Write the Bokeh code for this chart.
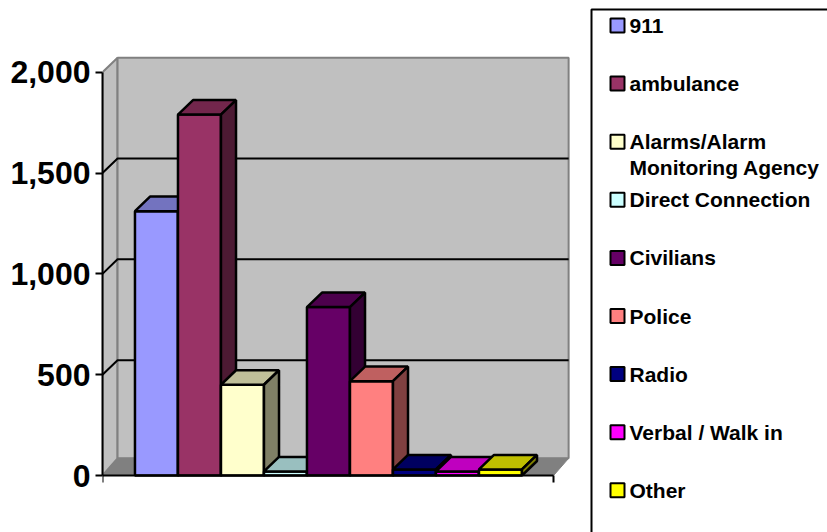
from bokeh.plotting import figure
from bokeh.models import Range1d, FixedTicker, NumeralTickFormatter
from bokeh.core.properties import value
from bokeh.embed import file_html
from bokeh.resources import INLINE

categories = ["911", "ambulance", "Alarms/Alarm\nMonitoring Agency", "Direct Connection",
              "Civilians", "Police", "Radio", "Verbal / Walk in", "Other"]
values = [1311, 1790, 450, 20, 835, 468, 30, 20, 30]
colors = ["#9999FF", "#993366", "#FFFFCC", "#CCFFFF", "#660066",
          "#FF8080", "#000080", "#FF00FF", "#FFFF00"]
y_ticks = [0, 500, 1000, 1500, 2000]

FONT = "Liberation Sans"
DX, DY = 0.35, 72       # 3-D depth of the bars and walls
FLOOR_DY = 85
GAP = 0.755
X_END = 10.49
W, H = 827, 532
Y0, PX_PER = 475.0, 403.3 / 2000   # figure px of value 0, px per unit
X0 = 102.0
PX_PER_BAR = 43.0
BAR_LW = 2.5


def shade(c, f):
    r, g, b = (int(c[i:i + 2], 16) for i in (1, 3, 5))
    return "#%02X%02X%02X" % (round(r * f), round(g * f), round(b * f))


p = figure(width=W, height=H, output_backend="svg", toolbar_location=None,
           x_range=Range1d(0, (W - X0) / PX_PER_BAR),
           y_range=Range1d(-(H - Y0) / PX_PER, Y0 / PX_PER),
           min_border_left=int(X0), min_border_right=0, min_border_top=0, min_border_bottom=0)
p.outline_line_color = None
p.grid.visible = False
p.extra_x_ranges["px"] = Range1d(X0, W)
p.extra_y_ranges["px"] = Range1d(H, 0)

top_wall = max(y_ticks) + DY
# side wall, back wall, floor
p.patch([0, DX, DX, 0], [0, FLOOR_DY, top_wall, max(y_ticks)], fill_color="#C0C0C0", line_color="#808080", line_width=2)
p.patch([DX, X_END + DX, X_END + DX, DX], [FLOOR_DY, FLOOR_DY, top_wall, top_wall],
        fill_color="#C0C0C0", line_color="#808080", line_width=2)
p.patch([0, X_END, X_END + DX, DX], [0, 0, FLOOR_DY, FLOOR_DY], fill_color="#808080", line_color="#808080", line_width=1)
# gridlines
for t in y_ticks[1:-1]:
    p.line([0, DX, X_END + DX], [t, t + DY, t + DY], line_color="black", line_width=2)

# bars, painted left to right
for i, (v, c) in enumerate(zip(values, colors)):
    x0, x1 = GAP + i, GAP + i + 1
    p.patch([x0, x1, x1, x0], [0, 0, v, v], fill_color=c, line_color="black", line_width=BAR_LW)
    p.patch([x0, x1, x1 + DX, x0 + DX], [v, v, v + DY, v + DY], fill_color=shade(c, 0.75), line_color="black", line_width=BAR_LW)
    p.patch([x1, x1 + DX, x1 + DX, x1], [0, DY, v + DY, v], fill_color=shade(c, 0.5), line_color="black", line_width=BAR_LW)

ya = p.yaxis[0]
ya.ticker = FixedTicker(ticks=y_ticks)
ya.bounds = (0, 2000)
ya.formatter = NumeralTickFormatter(format="0,0")
ya.major_label_text_font = FONT
ya.major_label_text_font_style = "bold"
ya.major_label_text_font_size = "32px"
ya.major_label_text_color = "black"
ya.major_label_standoff = 5
ya.major_tick_out = 7
ya.major_tick_in = 0
ya.minor_tick_line_color = None
ya.axis_line_color = "black"
ya.axis_line_width = 2
ya.major_tick_line_width = 2
ya.major_tick_line_color = "black"

xa = p.xaxis[0]
xa.fixed_location = 0
xa.ticker = FixedTicker(ticks=[0, X_END])
xa.bounds = (0, X_END)
xa.major_label_text_color = None
xa.major_label_text_font_size = "1px"
xa.major_label_standoff = 0
xa.major_tick_out = 7
xa.major_tick_in = 0
xa.minor_tick_line_color = None
xa.axis_line_color = "black"
xa.axis_line_width = 2
xa.major_tick_line_width = 2
xa.major_tick_line_color = "black"

# legend panel, on the pixel ranges
LEFT = 591.0
p.line([W, LEFT, LEFT], [9, 9, H], line_color="black", line_width=2, x_range_name="px", y_range_name="px")
ys = [25 + 58.1 * i for i in range(len(categories))]
p.rect([617] * len(ys), ys, width=14, height=14, fill_color=colors, line_color="black", line_width=2,
       x_range_name="px", y_range_name="px")
p.text([629] * len(ys), [y + 13 * c.count("\n") for y, c in zip(ys, categories)], text=categories,
       text_font=value(FONT), text_font_style="bold",
       text_font_size="21px", text_color="black", text_baseline="middle", text_line_height=1.15,
       x_range_name="px", y_range_name="px")

open("out.html", "w").write(file_html(p, INLINE))
